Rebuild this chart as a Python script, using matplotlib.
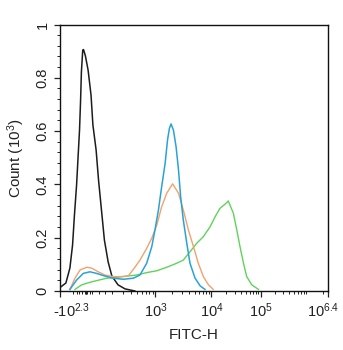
import numpy as np
import matplotlib
matplotlib.use("Agg")
import matplotlib.pyplot as plt
from matplotlib.transforms import ScaledTranslation

plt.rcParams['font.family'] = ['Liberation Sans', 'DejaVu Sans']
plt.rcParams['mathtext.default'] = 'regular'

# Histogram traces: display channel (0-1000) vs. count (x10^3)
black_ch = [0, 22, 37, 47, 54, 62, 67, 73, 77, 80, 85, 88, 95, 105, 116, 123, 135, 144,
            155, 166, 180, 194, 217, 243, 280]
black_ct = [0.013, 0.030, 0.086, 0.173, 0.285, 0.398, 0.492, 0.604, 0.717, 0.822, 0.904,
            0.906, 0.882, 0.829, 0.735, 0.623, 0.529, 0.417, 0.304, 0.191, 0.109, 0.056,
            0.023, 0.008, 0.0]

orange_ch = [37, 56, 75, 100, 118, 143, 168, 199, 231, 255, 280, 299, 324, 343, 362, 380,
             399, 421, 443, 461, 480, 499, 517, 536, 555, 573]
orange_ct = [0.006, 0.048, 0.079, 0.089, 0.086, 0.072, 0.060, 0.054, 0.054, 0.056, 0.089,
             0.116, 0.160, 0.198, 0.248, 0.316, 0.367, 0.402, 0.367, 0.304, 0.229, 0.166,
             0.104, 0.054, 0.023, 0.006]

blue_ch = [37, 62, 87, 112, 137, 168, 199, 237, 274, 299, 324, 343, 355, 368, 380, 393,
           402, 409, 415, 424, 434, 443, 451, 461, 474, 486, 505, 524, 542]
blue_ct = [0.006, 0.041, 0.066, 0.072, 0.066, 0.056, 0.048, 0.044, 0.048, 0.060, 0.104,
           0.166, 0.229, 0.304, 0.391, 0.479, 0.567, 0.610, 0.627, 0.604, 0.541, 0.454,
           0.354, 0.266, 0.179, 0.104, 0.048, 0.019, 0.006]

green_ch = [56, 81, 106, 137, 175, 212, 249, 287, 324, 362, 399, 436, 461, 486, 511, 536,
            561, 580, 598, 623, 629, 648, 661, 673, 686, 698, 717, 742]
green_ct = [0.006, 0.023, 0.031, 0.039, 0.048, 0.051, 0.056, 0.060, 0.069, 0.076, 0.089,
            0.104, 0.116, 0.147, 0.179, 0.204, 0.241, 0.279, 0.310, 0.331, 0.338, 0.292,
            0.229, 0.166, 0.104, 0.054, 0.023, 0.006]

# Axis labelling (biexponential display)
tick_values = [-10 ** 2.3, 1e3, 1e4, 1e5, 10 ** 6.4]
tick_labels = ['-10$^{2.3}$', '10$^{3}$', '10$^{4}$', '10$^{5}$', '10$^{6.4}$']
y_ticks = [0, 0.2, 0.4, 0.6, 0.8, 1.0]
y_labels = ['0', '0.2', '0.4', '0.6', '0.8', '1']

LIN_LIMIT = 10 ** 2.301
LIN_CH = 194.0
LOG_DEC = [2.301, 3.0, 4.0, 5.0, 6.4]
LOG_CH = [194.0, 357.0, 566.0, 750.0, 1000.0]


def to_channel(v):
    v = np.asarray(v, dtype=float)
    lin = (v + LIN_LIMIT) / (2 * LIN_LIMIT) * LIN_CH
    logv = np.log10(np.clip(v, LIN_LIMIT, None))
    lg = np.interp(logv, LOG_DEC, LOG_CH)
    return np.where(v <= LIN_LIMIT, lin, lg)


minor_vals = [-100, -70, -50, -30, -6, -3, 0, 3, 6, 30, 50, 100, 150]
for d in range(2, 7):
    for k in range(2, 10):
        val = k * 10 ** d
        if LIN_LIMIT < val < 10 ** 6.4:
            minor_vals.append(val)

fig = plt.figure(figsize=(3.43, 3.5), dpi=100)
ax = fig.add_axes([60 / 343, 1 - 291 / 350, 267.5 / 343, 266.5 / 350])

ax.plot(black_ch, black_ct, color='#1c1c1c', lw=1.1)
ax.plot(green_ch, green_ct, color='#5fd35a', lw=1.0)
ax.plot(orange_ch, orange_ct, color='#f0a26e', lw=1.0)
ax.plot(blue_ch, blue_ct, color='#2aa3d4', lw=1.1)

ax.set_xlim(0, 1000)
ax.set_ylim(0, 1.0)

ax.set_xticks(to_channel(tick_values))
ax.set_xticklabels(tick_labels, fontsize=10.5)
ax.set_xticks(to_channel(minor_vals), minor=True)
ax.set_yticks(y_ticks)
ax.set_yticklabels(y_labels, fontsize=10.5, rotation=90, va='center')
ax.set_yticks(np.arange(0, 1.0001, 0.04), minor=True)

ax.tick_params(axis='both', which='major', direction='out', length=4.5, width=0.9,
               color='#222222', labelcolor='#222222')
ax.tick_params(axis='both', which='minor', direction='out', length=2.5, width=0.7,
               color='#222222')
ax.tick_params(axis='y', which='major', pad=3)
ax.tick_params(axis='x', which='major', pad=3)

labels = ax.get_xticklabels()
labels[0].set_transform(labels[0].get_transform() + ScaledTranslation(11 / 100, 0, fig.dpi_scale_trans))
labels[-1].set_transform(labels[-1].get_transform() + ScaledTranslation(-4 / 100, 0, fig.dpi_scale_trans))

ax.set_xlabel('FITC-H', fontsize=11, color='#222222', labelpad=6)
ax.set_ylabel('Count (10$^{3}$)', fontsize=11, color='#222222', labelpad=6)

for s in ax.spines.values():
    s.set_linewidth(1.0)
    s.set_color('#111111')

fig.savefig('out.png', dpi=100)
